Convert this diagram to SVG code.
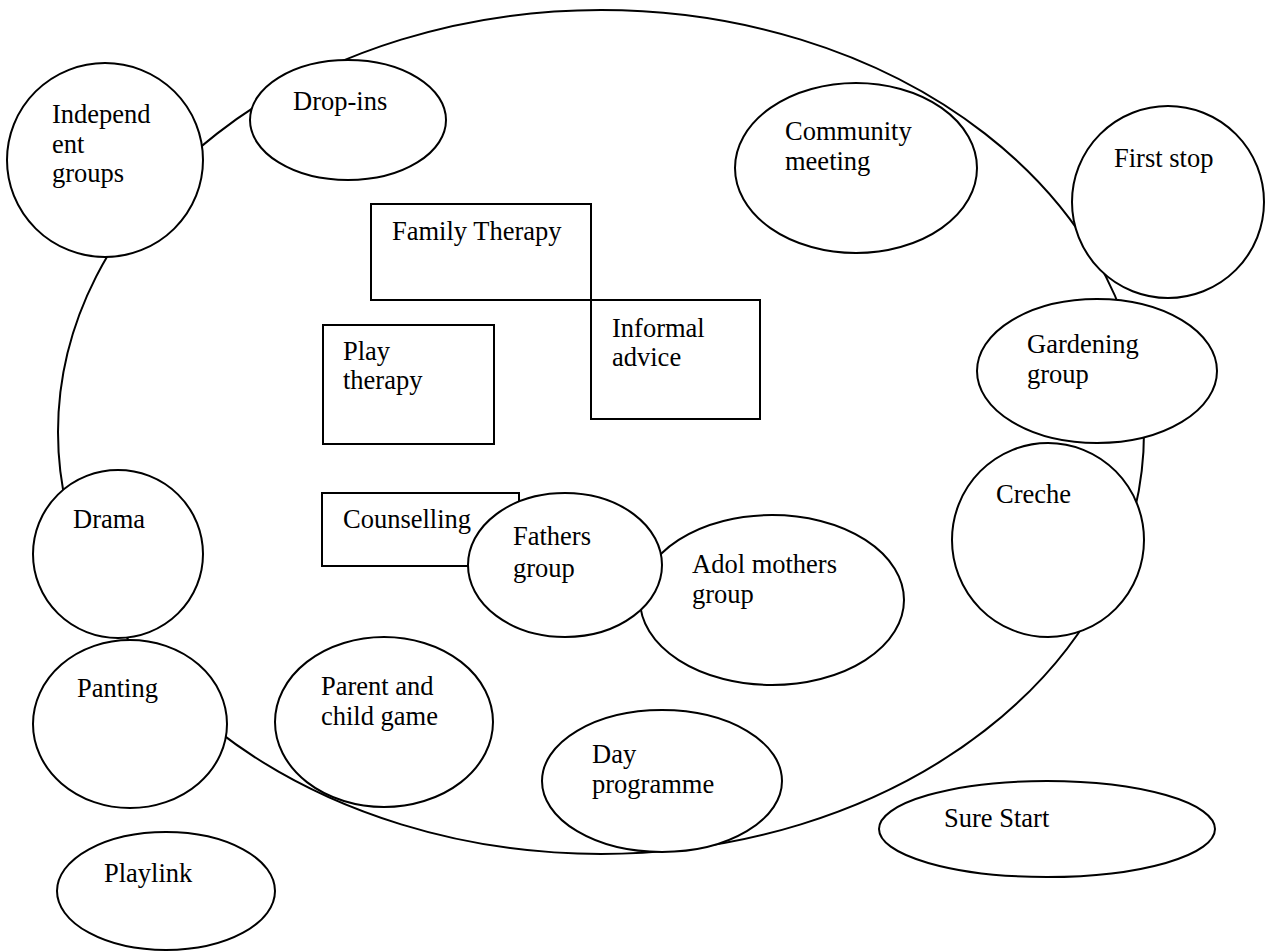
<svg xmlns="http://www.w3.org/2000/svg" width="1277" height="952" viewBox="0 0 1277 952">
<style>
.s{fill:#fff;stroke:#000;stroke-width:2}
.b{fill:none;stroke:#000;stroke-width:2}
text{font-family:"Liberation Serif","Times New Roman",serif;font-size:26.5px;fill:#000}
</style>
<rect width="1277" height="952" fill="#fff"/>
<g id="connectors">
<ellipse class="b" cx="601" cy="432" rx="543" ry="422"/>
</g>
<g id="independent-groups"><ellipse class="s" cx="105" cy="160" rx="98" ry="97"/><text x="52" y="123">Independ</text><text x="52" y="153">ent</text><text x="52" y="182">groups</text></g>
<g id="drop-ins"><ellipse class="s" cx="348" cy="120" rx="98" ry="60"/><text x="293" y="110">Drop-ins</text></g>
<g id="community-meeting"><ellipse class="s" cx="856" cy="168" rx="121" ry="85"/><text x="785" y="140">Community</text><text x="785" y="170">meeting</text></g>
<g id="first-stop"><ellipse class="s" cx="1168" cy="202" rx="96" ry="96"/><text x="1114" y="167">First stop</text></g>
<g id="gardening-group"><ellipse class="s" cx="1097" cy="371" rx="120" ry="72"/><text x="1027" y="353">Gardening</text><text x="1027" y="383">group</text></g>
<g id="creche"><ellipse class="s" cx="1048" cy="540" rx="96" ry="97"/><text x="996" y="503">Creche</text></g>
<g id="sure-start"><ellipse class="s" cx="1047" cy="829" rx="168" ry="48"/><text x="944" y="827">Sure Start</text></g>
<g id="family-therapy"><rect class="s" x="371" y="204" width="220" height="96"/><text x="392" y="240">Family Therapy</text></g>
<g id="informal-advice"><rect class="s" x="591" y="300" width="169" height="119"/><text x="612" y="337">Informal</text><text x="612" y="366">advice</text></g>
<g id="play-therapy"><rect class="s" x="323" y="325" width="171" height="119"/><text x="343" y="360">Play</text><text x="343" y="389">therapy</text></g>
<g id="counselling"><rect class="s" x="322" y="493" width="197" height="73"/><text x="343" y="528">Counselling</text></g>
<g id="adol-mothers-group"><ellipse class="s" cx="772" cy="600" rx="132" ry="85"/><text x="692" y="573">Adol mothers</text><text x="692" y="603">group</text></g>
<g id="fathers-group"><ellipse class="s" cx="565" cy="565" rx="97" ry="72"/><text x="513" y="545">Fathers</text><text x="513" y="577">group</text></g>
<g id="drama"><ellipse class="s" cx="118" cy="554" rx="85" ry="84"/><text x="73" y="528">Drama</text></g>
<g id="panting"><ellipse class="s" cx="130" cy="724" rx="97" ry="84"/><text x="77" y="697">Panting</text></g>
<g id="parent-and-child-game"><ellipse class="s" cx="384" cy="722" rx="109" ry="85"/><text x="321" y="695">Parent and</text><text x="321" y="725">child game</text></g>
<g id="day-programme"><ellipse class="s" cx="662" cy="781" rx="120" ry="71"/><text x="592" y="763">Day</text><text x="592" y="793">programme</text></g>
<g id="playlink"><ellipse class="s" cx="166" cy="891" rx="109" ry="59"/><text x="104" y="882">Playlink</text></g>
</svg>
